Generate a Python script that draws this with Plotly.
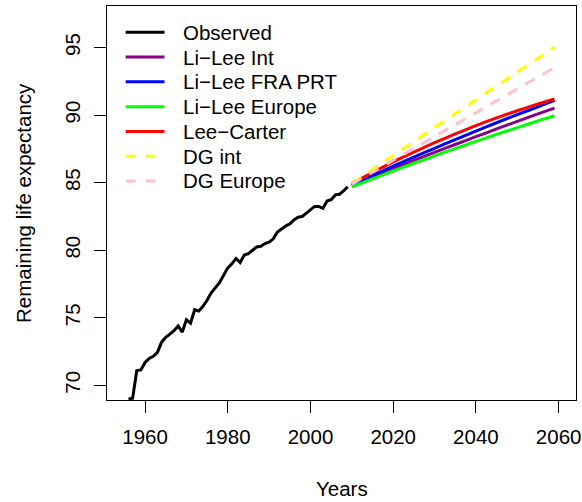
import plotly.graph_objects as go

# ---- data ----
obs_years = [1956, 1957, 1958, 1959, 1960, 1961, 1962, 1963, 1964, 1965,
             1966, 1967, 1968, 1969, 1970, 1971, 1972, 1973, 1974, 1975,
             1976, 1977, 1978, 1979, 1980, 1981, 1982, 1983, 1984, 1985,
             1986, 1987, 1988, 1989, 1990, 1991, 1992, 1993, 1994, 1995,
             1996, 1997, 1998, 1999, 2000, 2001, 2002, 2003, 2004, 2005,
             2006, 2007, 2008, 2009]
obs_values = [69.0, 69.05, 71.1, 71.15, 71.7, 72.0, 72.15, 72.45, 73.2, 73.55,
              73.8, 74.05, 74.4, 73.95, 74.85, 74.6, 75.6, 75.5, 75.85, 76.3,
              76.85, 77.25, 77.6, 78.15, 78.7, 79.0, 79.4, 79.1, 79.65, 79.75,
              80.0, 80.25, 80.3, 80.5, 80.6, 80.85, 81.35, 81.6, 81.8, 81.95,
              82.25, 82.45, 82.5, 82.75, 83.0, 83.25, 83.25, 83.1, 83.65, 83.75,
              84.1, 84.15, 84.4, 84.7]

proj_years = [2010, 2015, 2020, 2025, 2030, 2035, 2040, 2045, 2050, 2055, 2059]
li_lee_int = [84.8, 85.42, 86.04, 86.65, 87.24, 87.83, 88.41, 88.98, 89.54, 90.09, 90.52]
li_lee_fra = [84.85, 85.54, 86.23, 86.9, 87.55, 88.19, 88.82, 89.44, 90.04, 90.62, 91.1]
li_lee_eur = [84.7, 85.29, 85.87, 86.44, 86.99, 87.53, 88.06, 88.58, 89.08, 89.58, 89.96]
lee_carter = [84.95, 85.76, 86.54, 87.27, 87.96, 88.61, 89.23, 89.8, 90.33, 90.83, 91.2]
dg_int = [84.95, 85.98, 87.02, 88.05, 89.08, 90.12, 91.15, 92.17, 93.2, 94.22, 95.05]
dg_europe = [84.9, 85.78, 86.66, 87.54, 88.42, 89.3, 90.18, 91.06, 91.94, 92.82, 93.52]

x_ticks = [1960, 1980, 2000, 2020, 2040, 2060]
y_ticks = [70, 75, 80, 85, 90, 95]

series_names = ["Observed", "Li\u2212Lee Int", "Li\u2212Lee FRA PRT", "Li\u2212Lee Europe",
                "Lee\u2212Carter", "DG int", "DG Europe"]
series_colors = ["#000000", "#880088", "#0000FF", "#00FF00", "#FF0000", "#FFFF00", "#FFC0CB"]
series_dash = ["solid", "solid", "solid", "solid", "solid", "11px,9px", "11px,9px"]

FONT = "Liberation Sans, Arial, Helvetica, sans-serif"
FS = 20.5

# plot-area geometry (pixels) used for the hand-drawn R-style legend
W, H = 582, 502
ML, MR, MT, MB = 107, 6, 6, 102
PW, PH = W - ML - MR, H - MT - MB


def px_to_paper(px, py):
    return (px - ML) / PW, (H - MB - py) / PH


fig = go.Figure()
fig.add_trace(go.Scatter(x=obs_years, y=obs_values, mode="lines", name=series_names[0],
                         line=dict(color=series_colors[0], width=3)))
proj_values = [li_lee_int, li_lee_fra, li_lee_eur, lee_carter, dg_int, dg_europe]
for i, vals in enumerate(proj_values, start=1):
    fig.add_trace(go.Scatter(x=proj_years, y=vals, mode="lines", name=series_names[i],
                             line=dict(color=series_colors[i], width=3, dash=series_dash[i],
                                       shape="spline", smoothing=0.6)))

axis_common = dict(showgrid=False, zeroline=False, showline=True, mirror=True,
                   linecolor="black", linewidth=1, ticks="outside", ticklen=12,
                   tickcolor="black", tickwidth=1, automargin=False,
                   tickfont=dict(family=FONT, size=FS, color="black"))

fig.update_xaxes(range=[1950.8, 2064.2], tickvals=x_ticks, ticklabelstandoff=6,
                 **axis_common)
fig.update_yaxes(range=[68.92, 98.08], tickvals=y_ticks, tickangle=-90,
                 ticklabelstandoff=6, **axis_common)

# axis titles
fig.add_annotation(text="Years", xref="paper", yref="paper",
                   x=px_to_paper(341.7, 488)[0], y=px_to_paper(341.7, 488)[1],
                   showarrow=False, font=dict(family=FONT, size=FS, color="black"),
                   xanchor="center", yanchor="middle")
fig.add_annotation(text="Remaining life expectancy", xref="paper", yref="paper",
                   x=px_to_paper(23, 203)[0], y=0.5, textangle=-90, showarrow=False,
                   font=dict(family=FONT, size=FS, color="black"),
                   xanchor="center", yanchor="middle")

# R-style legend without a box
for i, name in enumerate(series_names):
    yc = 32.3 + 24.78 * i
    x0, y0 = px_to_paper(125.7, yc)
    x1, _ = px_to_paper(164.5, yc)
    fig.add_shape(type="line", xref="paper", yref="paper", x0=x0, x1=x1, y0=y0, y1=y0,
                  line=dict(color=series_colors[i], width=3,
                            dash="10px,10px" if series_dash[i] != "solid" else "solid"))
    tx, ty = px_to_paper(181, yc)
    fig.add_annotation(text=name, xref="paper", yref="paper", x=tx, y=ty,
                       xanchor="left", yanchor="middle", showarrow=False,
                       font=dict(family=FONT, size=FS, color="black"))

fig.update_layout(
    width=W, height=H,
    margin=dict(l=ML, r=MR, t=MT, b=MB),
    plot_bgcolor="white", paper_bgcolor="white",
    font=dict(family=FONT, size=FS, color="black"),
    showlegend=False,
)

fig.write_html("out.html", config={"displayModeBar": False, "staticPlot": True},
               post_script="document.body.style.margin='0';document.body.style.overflow='hidden';")
